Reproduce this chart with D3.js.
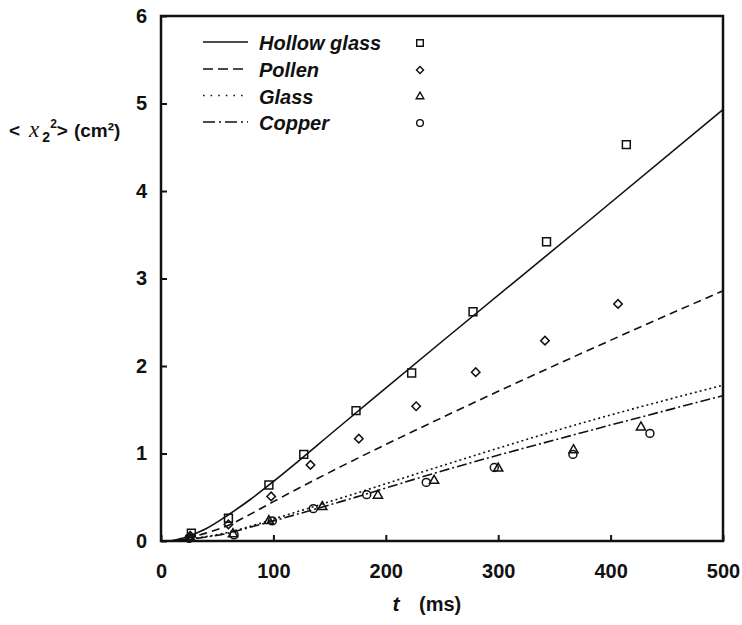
<!DOCTYPE html>
<html>
<head>
<meta charset="utf-8">
<script src="https://cdn.jsdelivr.net/npm/d3@7"></script>
<style>
  html, body { margin: 0; padding: 0; background: #fff; }
  svg { display: block; }
  text { font-family: "Liberation Sans", Arial, sans-serif; fill: #111; }
</style>
</head>
<body>
<svg id="chart" width="742" height="625"></svg>
<script>
// Mean-square displacement <x2^2> (cm^2) versus time t (ms) for four particle types.
const seriesNames = ["Hollow glass", "Pollen", "Glass", "Copper"];

// Measured points [t (ms), <x2^2> (cm^2)]
const hollowGlassPts = [[27,0.09],[60,0.26],[96,0.64],[127,0.99],[173.5,1.49],[223,1.92],[277.6,2.62],[343,3.42],[414,4.53]];
const pollenPts      = [[26,0.06],[60,0.19],[98,0.51],[133,0.87],[176,1.17],[227,1.54],[280,1.93],[341.6,2.29],[406.6,2.71]];
const glassPts       = [[26,0.04],[64,0.08],[96,0.23],[143.5,0.39],[193,0.52],[243,0.69],[300,0.83],[367,1.04],[427,1.30]];
const copperPts      = [[25,0.03],[65,0.07],[99,0.23],[135.5,0.37],[183,0.53],[236,0.67],[296.5,0.84],[366.5,0.99],[435,1.23]];

// Fitted curves [t (ms), <x2^2> (cm^2)]
const hollowGlassFit = [[0,0],[10,0.005],[20,0.035],[40,0.14],[60,0.3],[80,0.48],[100,0.68],[160,1.32],[250,2.28],[375,3.6],[500,4.93]];
const pollenFit      = [[0,0],[10,0.004],[20,0.025],[40,0.09],[60,0.18],[80,0.31],[100,0.45],[160,0.85],[250,1.41],[375,2.15],[500,2.86]];
const glassFit       = [[0,0],[10,0.003],[20,0.015],[40,0.05],[60,0.1],[80,0.17],[100,0.25],[160,0.49],[250,0.86],[375,1.35],[500,1.78]];
const copperFit      = [[0,0],[10,0.003],[20,0.013],[40,0.045],[60,0.09],[80,0.16],[100,0.23],[160,0.45],[250,0.8],[375,1.24],[500,1.66]];

const xTicks = [0, 100, 200, 300, 400, 500];
const yTicks = [0, 1, 2, 3, 4, 5, 6];

const svg = d3.select("#chart");
const x = d3.scaleLinear().domain([0, 500]).range([161, 723]);
const y = d3.scaleLinear().domain([0, 6]).range([541, 16]);

// Axes with inward ticks
const gx = svg.append("g").attr("transform", "translate(0,541)")
  .call(d3.axisBottom(x).tickValues(xTicks).tickFormat(d3.format("d")).tickSize(-6).tickPadding(23));
const gy = svg.append("g").attr("transform", "translate(161,0)")
  .call(d3.axisLeft(y).tickValues(yTicks).tickFormat(d3.format("d")).tickSize(-6).tickPadding(14));
[gx, gy].forEach(g => {
  g.select(".domain").remove();
  g.selectAll(".tick line").attr("stroke", "#111").attr("stroke-width", 2);
  g.selectAll(".tick text").attr("font-size", 20).attr("font-weight", "bold")
    .attr("font-family", "Liberation Sans, Arial, sans-serif").attr("fill", "#111");
});

// Plot frame
svg.append("rect")
  .attr("x", x(0)).attr("y", y(6))
  .attr("width", x(500) - x(0)).attr("height", y(0) - y(6))
  .attr("fill", "none").attr("stroke", "#111").attr("stroke-width", 2.5);

const styles = [
  { fit: hollowGlassFit, pts: hollowGlassPts, dash: null,           legendDash: null,            marker: "square" },
  { fit: pollenFit,      pts: pollenPts,      dash: "8,5",          legendDash: "10,5",          marker: "diamond" },
  { fit: glassFit,       pts: glassPts,       dash: "2,3",          legendDash: "1.6,6",         marker: "triangle" },
  { fit: copperFit,      pts: copperPts,      dash: "10,3,2,3",     legendDash: "12,4,2,4",      marker: "circle" }
];

const line = d3.line().x(d => x(d[0])).y(d => y(d[1])).curve(d3.curveMonotoneX);

const plot = svg.append("g");
styles.forEach(s => {
  plot.append("path").attr("d", line(s.fit))
    .attr("fill", "none").attr("stroke", "#111").attr("stroke-width", 1.6)
    .attr("stroke-dasharray", s.dash);
});

function markerPath(kind, scale) {
  const sz = {
    square:   d3.symbol(d3.symbolSquare, 62 * scale),
    diamond:  d3.symbol(d3.symbolSquare, 36 * scale),
    triangle: d3.symbol(d3.symbolTriangle, 36 * scale),
    circle:   d3.symbol(d3.symbolCircle, 50 * scale)
  };
  return sz[kind]();
}

styles.forEach(s => {
  plot.selectAll(null).data(s.pts).enter().append("path")
    .attr("d", markerPath(s.marker, 1))
    .attr("transform", d => `translate(${x(d[0])},${y(d[1])})` + (s.marker === "diamond" ? " rotate(45)" : ""))
    .attr("fill", "none").attr("stroke", "#111").attr("stroke-width", 1.5);
});

// Legend
const legend = svg.append("g");
const rowY = [43, 70, 96.5, 123];
seriesNames.forEach((name, i) => {
  const s = styles[i];
  legend.append("line")
    .attr("x1", 203).attr("x2", 248).attr("y1", rowY[i] - 1).attr("y2", rowY[i] - 1)
    .attr("stroke", "#111").attr("stroke-width", 1.5)
    .attr("stroke-dasharray", s.legendDash);
  legend.append("text")
    .attr("x", 259).attr("y", rowY[i] + 7)
    .attr("font-size", 20).attr("font-weight", "bold").attr("font-style", "italic")
    .text(name);
  legend.append("path")
    .attr("d", markerPath(s.marker, 0.7))
    .attr("transform", `translate(420,${rowY[i]})` + (s.marker === "diamond" ? " rotate(45)" : ""))
    .attr("fill", "none").attr("stroke", "#111").attr("stroke-width", 1.4);
});

// Y axis title: < x_2^2 > (cm^2)
const yt = svg.append("text").attr("x", 9).attr("y", 137).attr("font-size", 19).attr("font-weight", "bold");
yt.append("tspan").text("<");
yt.append("tspan").attr("dx", 9).attr("font-family", "Liberation Serif, Times New Roman, serif")
  .attr("font-style", "italic").attr("font-weight", "normal").attr("font-size", 23).text("x");
yt.append("tspan").attr("dx", 3).attr("dy", 5).attr("font-size", 14).text("2");
yt.append("tspan").attr("dx", 0).attr("dy", -14).attr("font-size", 12).text("2");
yt.append("tspan").attr("dy", 9).text(">");
yt.append("tspan").attr("dx", 6).text("(cm²)");

// X axis title: t (ms)
svg.append("text").attr("x", 396).attr("y", 611).attr("text-anchor", "middle")
  .attr("font-size", 21).attr("font-weight", "bold").attr("font-style", "italic").text("t");
svg.append("text").attr("x", 419).attr("y", 611)
  .attr("font-size", 20).attr("font-weight", "bold").text("(ms)");
</script>
</body>
</html>
